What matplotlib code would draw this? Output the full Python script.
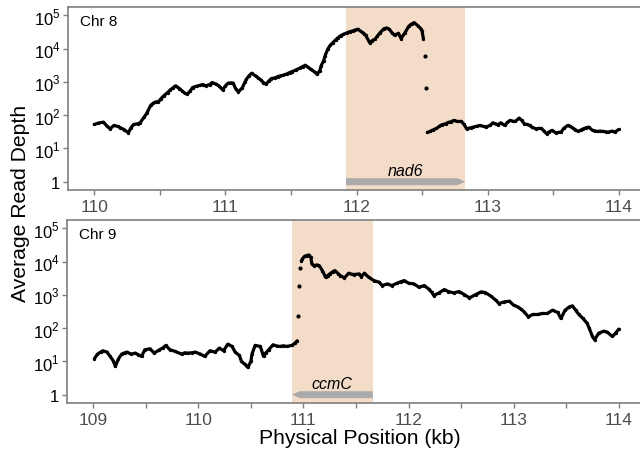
import matplotlib
matplotlib.use("Agg")
import matplotlib.pyplot as plt
import matplotlib.transforms as mtransforms
from matplotlib.patches import Polygon
import numpy as np

plt.rcParams["font.family"] = ["Liberation Sans", "DejaVu Sans"]
plt.rcParams["mathtext.fontset"] = "custom"
plt.rcParams["mathtext.rm"] = "Liberation Sans"

# ---- Chr 8: positions (kb) and log10 average read depth ----
chr8_left_pos = [110.00, 110.03, 110.07, 110.10, 110.12, 110.15, 110.18, 110.20, 110.23, 110.26,
                 110.28, 110.30, 110.33, 110.35, 110.38, 110.40, 110.43, 110.45, 110.47, 110.49,
                 110.51, 110.53, 110.56, 110.58, 110.60, 110.62, 110.65, 110.67, 110.69, 110.71,
                 110.73, 110.75, 110.78, 110.81, 110.83, 110.85, 110.88, 110.90, 110.93, 110.95,
                 110.98, 111.00, 111.02, 111.04, 111.06, 111.08, 111.10, 111.13, 111.15, 111.16,
                 111.18, 111.20, 111.23, 111.25, 111.27, 111.29, 111.31, 111.33, 111.35, 111.38,
                 111.40, 111.42, 111.44, 111.47, 111.49, 111.51, 111.54, 111.57, 111.59, 111.61,
                 111.63, 111.65, 111.68, 111.70, 111.72, 111.73, 111.75, 111.76, 111.78, 111.80,
                 111.82, 111.84, 111.86, 111.88, 111.90, 111.93, 111.95, 111.97, 111.99, 112.01,
                 112.04, 112.06, 112.07, 112.10, 112.12, 112.14, 112.16, 112.18, 112.21, 112.23,
                 112.25, 112.27, 112.29, 112.32, 112.34, 112.37, 112.40, 112.42, 112.44, 112.47,
                 112.49, 112.50, 112.51]
chr8_left_logdepth = [1.72, 1.76, 1.79, 1.66, 1.59, 1.69, 1.66, 1.62, 1.56, 1.47,
                      1.62, 1.72, 1.74, 1.77, 1.94, 2.05, 2.29, 2.36, 2.40, 2.40,
                      2.50, 2.58, 2.68, 2.76, 2.82, 2.88, 2.80, 2.73, 2.66, 2.63,
                      2.72, 2.83, 2.87, 2.90, 2.92, 2.88, 2.92, 2.98, 2.93, 2.88,
                      2.76, 2.88, 2.96, 2.97, 2.96, 2.78, 2.70, 2.83, 3.00, 3.08,
                      3.18, 3.26, 3.18, 3.12, 3.06, 2.98, 2.93, 3.02, 3.10, 3.12,
                      3.16, 3.18, 3.20, 3.24, 3.28, 3.31, 3.36, 3.42, 3.46, 3.50,
                      3.44, 3.38, 3.30, 3.23, 3.34, 3.48, 3.64, 3.78, 3.98, 4.10,
                      4.18, 4.26, 4.33, 4.39, 4.43, 4.48, 4.51, 4.53, 4.56, 4.58,
                      4.50, 4.44, 4.40, 4.18, 4.24, 4.28, 4.38, 4.48, 4.60, 4.62,
                      4.58, 4.48, 4.40, 4.46, 4.30, 4.48, 4.68, 4.74, 4.78, 4.68,
                      4.60, 4.53, 4.30]
chr8_drop_pos = [112.52, 112.53]
chr8_drop_logdepth = [3.79, 2.83]
chr8_right_pos = [112.54, 112.56, 112.58, 112.61, 112.63, 112.65, 112.68, 112.70, 112.72, 112.74,
                  112.77, 112.80, 112.82, 112.84, 112.87, 112.89, 112.92, 112.94, 112.97, 112.99,
                  113.02, 113.04, 113.06, 113.08, 113.10, 113.13, 113.15, 113.17, 113.19, 113.21,
                  113.24, 113.26, 113.28, 113.30, 113.32, 113.34, 113.37, 113.39, 113.41, 113.43,
                  113.45, 113.47, 113.49, 113.52, 113.54, 113.56, 113.58, 113.61, 113.63, 113.65,
                  113.67, 113.69, 113.71, 113.73, 113.75, 113.77, 113.80, 113.82, 113.84, 113.86,
                  113.88, 113.90, 113.92, 113.95, 113.97, 114.00]
chr8_right_logdepth = [1.48, 1.51, 1.55, 1.60, 1.66, 1.71, 1.74, 1.78, 1.80, 1.84,
                       1.81, 1.81, 1.72, 1.59, 1.62, 1.64, 1.67, 1.69, 1.66, 1.64,
                       1.70, 1.77, 1.74, 1.71, 1.77, 1.69, 1.78, 1.84, 1.82, 1.81,
                       1.91, 1.84, 1.74, 1.72, 1.69, 1.63, 1.59, 1.60, 1.60, 1.52,
                       1.44, 1.50, 1.54, 1.47, 1.48, 1.49, 1.60, 1.69, 1.66, 1.61,
                       1.56, 1.51, 1.55, 1.59, 1.62, 1.64, 1.54, 1.52, 1.51, 1.52,
                       1.51, 1.50, 1.49, 1.52, 1.49, 1.57]

# ---- Chr 9 ----
chr9_left_pos = [109.01, 109.04, 109.07, 109.09, 109.13, 109.16, 109.19, 109.21, 109.24, 109.27,
                 109.30, 109.32, 109.36, 109.40, 109.43, 109.46, 109.49, 109.54, 109.58, 109.63,
                 109.66, 109.69, 109.73, 109.78, 109.84, 109.87, 109.90, 109.94, 109.97, 110.02,
                 110.06, 110.11, 110.16, 110.20, 110.24, 110.28, 110.32, 110.35, 110.39, 110.41,
                 110.44, 110.47, 110.50, 110.51, 110.54, 110.59, 110.62, 110.64, 110.67, 110.71,
                 110.75, 110.78, 110.81, 110.84, 110.89, 110.92, 110.94]
chr9_left_logdepth = [1.08, 1.22, 1.28, 1.32, 1.28, 1.15, 1.02, 0.85, 1.08, 1.22,
                      1.26, 1.28, 1.22, 1.25, 1.20, 1.15, 1.35, 1.38, 1.25, 1.35,
                      1.40, 1.48, 1.35, 1.30, 1.22, 1.26, 1.25, 1.26, 1.28, 1.22,
                      1.15, 1.32, 1.28, 1.40, 1.32, 1.52, 1.45, 1.28, 1.18, 1.00,
                      0.92, 0.82, 1.00, 1.22, 1.48, 1.45, 1.15, 1.25, 1.35, 1.50,
                      1.46, 1.45, 1.47, 1.45, 1.48, 1.55, 1.62]
chr9_jump_pos = [110.95, 110.96, 110.97]
chr9_jump_logdepth = [2.35, 3.28, 3.80]
chr9_right_pos = [110.98, 110.99, 111.01, 111.03, 111.05, 111.07, 111.08, 111.10, 111.13, 111.15,
                  111.18, 111.21, 111.23, 111.25, 111.28, 111.30, 111.33, 111.35, 111.39, 111.43,
                  111.46, 111.48, 111.53, 111.55, 111.58, 111.62, 111.67, 111.72, 111.75, 111.80,
                  111.84, 111.89, 111.93, 111.96, 112.00, 112.05, 112.10, 112.15, 112.19, 112.22,
                  112.24, 112.29, 112.34, 112.38, 112.43, 112.48, 112.53, 112.58, 112.64, 112.69,
                  112.73, 112.78, 112.83, 112.86, 112.91, 112.96, 113.00, 113.04, 113.07, 113.10,
                  113.14, 113.18, 113.23, 113.27, 113.32, 113.37, 113.42, 113.45, 113.49, 113.53,
                  113.56, 113.59, 113.62, 113.66, 113.70, 113.72, 113.75, 113.77, 113.81, 113.86,
                  113.89, 113.94, 113.97, 114.00]
chr9_right_logdepth = [4.02, 4.08, 4.16, 4.18, 4.20, 4.13, 3.93, 3.88, 3.90, 3.88,
                       3.73, 3.53, 3.58, 3.63, 3.70, 3.73, 3.64, 3.58, 3.51, 3.65,
                       3.62, 3.61, 3.63, 3.55, 3.65, 3.53, 3.43, 3.38, 3.28, 3.33,
                       3.28, 3.35, 3.40, 3.43, 3.35, 3.33, 3.23, 3.28, 3.18, 3.08,
                       2.98, 3.06, 3.16, 3.10, 3.06, 3.10, 3.01, 2.91, 3.01, 3.09,
                       3.07, 2.97, 2.84, 2.74, 2.79, 2.81, 2.69, 2.64, 2.57, 2.49,
                       2.34, 2.41, 2.41, 2.44, 2.44, 2.54, 2.47, 2.29, 2.54, 2.64,
                       2.67, 2.54, 2.41, 2.29, 2.14, 1.99, 1.75, 1.65, 1.85, 1.91,
                       1.88, 1.75, 1.85, 1.97]

# ---- gene annotations ----
chr8_gene = ("nad6", 111.92, 112.83, +1)
chr9_gene = ("ccmC", 110.89, 111.66, -1)

x_ticks_chr8 = [110, 111, 112, 113, 114]
x_ticks_chr9 = [109, 110, 111, 112, 113, 114]
y_ticks = [1, 10, 100, 1000, 10000, 100000]
y_tick_labels = ["1", "$10^{1}$", "$10^{2}$", "$10^{3}$", "$10^{4}$", "$10^{5}$"]

SHADE = "#F3DCC8"
GENE_GREY = "#AAAAAA"
FRAME = "#7F7F7F"
TICK_TEXT = "#4D4D4D"

fig = plt.figure(figsize=(6.4, 4.56), dpi=100)
W, H = 640, 456


def px_axes(left, top, right, bottom):
    return fig.add_axes([left / W, 1 - bottom / H, (right - left) / W, (bottom - top) / H])


def draw_panel(ax, segments, singles, gene, xticks, chr_label):
    xmin, xmax = xticks[0], xticks[-1]
    pad = 0.05 * (xmax - xmin)
    ax.set_xlim(xmin - pad, xmax + pad)
    ax.set_yscale("log")
    ax.set_ylim(10 ** -0.25, 10 ** 5.25)

    name, g0, g1, strand = gene
    ax.axvspan(g0, g1, color=SHADE, lw=0, zorder=0)

    for pos, logd in segments:
        depth = 10 ** np.asarray(logd)
        ax.plot(pos, depth, color="black", lw=2.3, solid_joinstyle="round",
                solid_capstyle="round", zorder=3)
        ax.plot(pos, depth, "o", color="black", ms=2.4, mew=0, zorder=3)
    for pos, logd in singles:
        ax.plot(pos, 10 ** np.asarray(logd), "o", color="black", ms=3.0, mew=0, zorder=3)

    # gene arrow: x in data, y in axes fraction
    trans = mtransforms.blended_transform_factory(ax.transData, ax.transAxes)
    yc = 0.25 / 5.5
    hh = 0.019
    head = 0.06 * (xmax - xmin) / 4.0
    if strand > 0:
        verts = [(g0, yc - hh), (g1 - head, yc - hh), (g1, yc), (g1 - head, yc + hh), (g0, yc + hh)]
    else:
        verts = [(g1, yc - hh), (g0 + head, yc - hh), (g0, yc), (g0 + head, yc + hh), (g1, yc + hh)]
    ax.add_patch(Polygon(verts, closed=True, transform=trans, facecolor=GENE_GREY,
                         edgecolor="none", zorder=2))
    ax.text((g0 + g1) / 2, 0.108, name, transform=trans, ha="center", va="center",
            fontsize=11.5, style="italic", color="black")

    ax.text(0.021, 0.925, chr_label, transform=ax.transAxes, ha="left", va="center",
            fontsize=11, color="black")

    ax.set_xticks(xticks)
    ax.set_xticks(np.arange(xmin + 0.5, xmax, 1.0), minor=True)
    ax.set_xticklabels([str(t) for t in xticks])
    ax.set_yticks(y_ticks)
    ax.set_yticklabels(y_tick_labels)
    ax.yaxis.set_minor_locator(matplotlib.ticker.NullLocator())
    ax.tick_params(axis="both", which="both", color=FRAME, width=1.0, length=3.5,
                   direction="out")
    ax.tick_params(axis="x", labelsize=12.5, labelcolor=TICK_TEXT, pad=3)
    ax.tick_params(axis="y", labelsize=12, labelcolor="black", pad=2)
    for s in ax.spines.values():
        s.set_color(FRAME)
        s.set_linewidth(1.2)


ax1 = px_axes(68, 8, 645, 191)
draw_panel(ax1,
           [(chr8_left_pos, chr8_left_logdepth), (chr8_right_pos, chr8_right_logdepth)],
           [(chr8_drop_pos, chr8_drop_logdepth)],
           chr8_gene, x_ticks_chr8, "Chr 8")

ax2 = px_axes(67, 221, 645, 404)
draw_panel(ax2,
           [(chr9_left_pos, chr9_left_logdepth), (chr9_right_pos, chr9_right_logdepth)],
           [(chr9_jump_pos, chr9_jump_logdepth)],
           chr9_gene, x_ticks_chr9, "Chr 9")

fig.text(21 / W, 1 - 203 / H, "Average Read Depth", rotation=90, ha="center", va="center",
         fontsize=15.2, color="black")
fig.text(360 / W, 1 - 439 / H, "Physical Position (kb)", ha="center", va="center",
         fontsize=15.2, color="black")

fig.savefig("out.png", dpi=100)
